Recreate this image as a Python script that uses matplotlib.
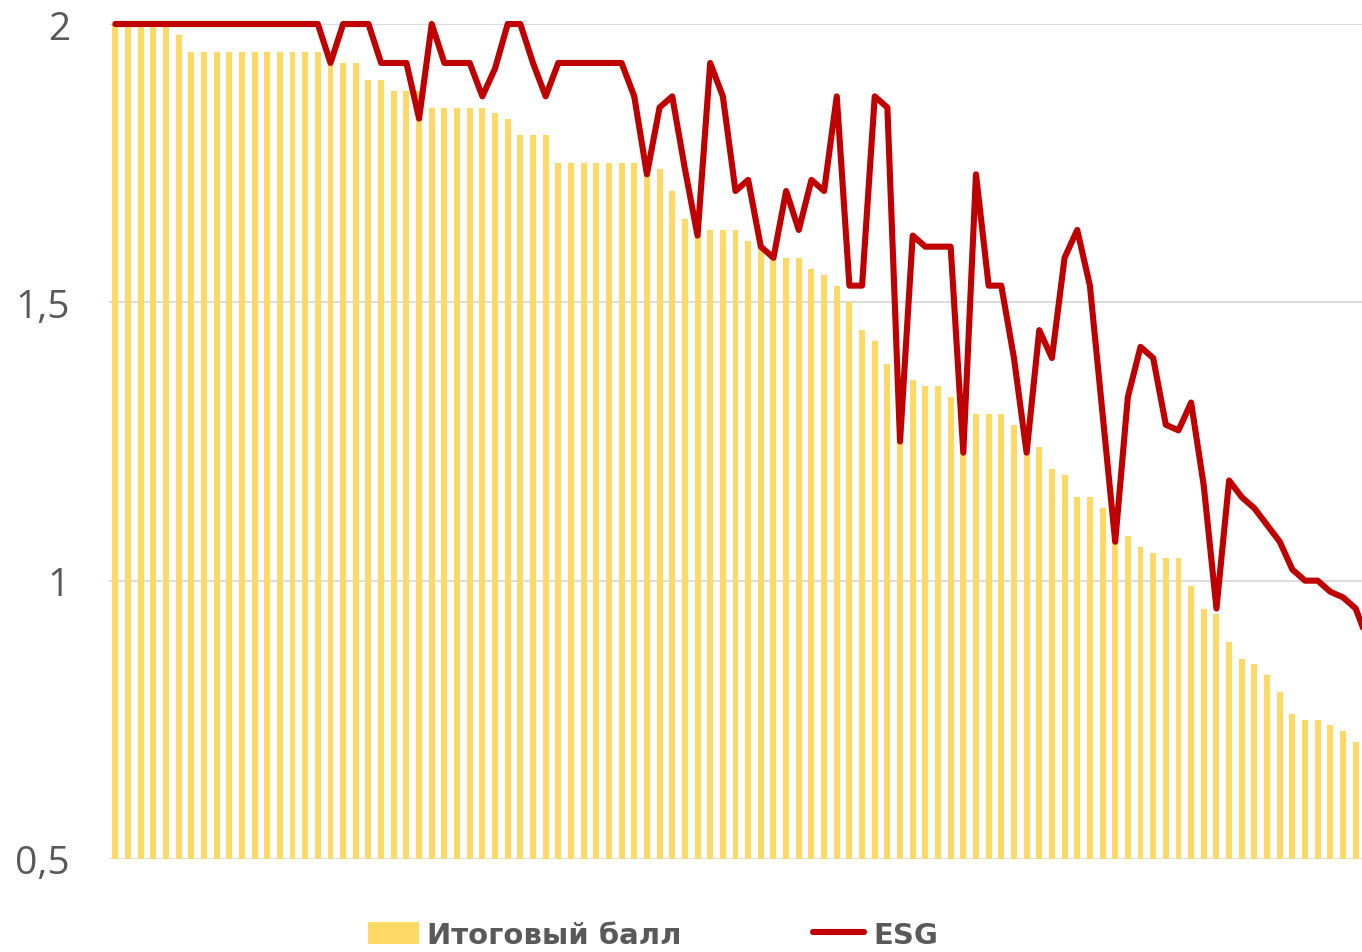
import matplotlib
matplotlib.use("Agg")
import matplotlib.pyplot as plt
from matplotlib.patches import Rectangle
import numpy as np

# итоговый балл (bars), sorted descending
total_score = [2.00, 2.00, 2.00, 2.00, 2.00, 1.98, 1.95, 1.95, 1.95, 1.95,
               1.95, 1.95, 1.95, 1.95, 1.95, 1.95, 1.95, 1.93, 1.93, 1.93,
               1.90, 1.90, 1.88, 1.88, 1.88, 1.85, 1.85, 1.85, 1.85, 1.85,
               1.84, 1.83, 1.80, 1.80, 1.80, 1.75, 1.75, 1.75, 1.75, 1.75,
               1.75, 1.75, 1.75, 1.74, 1.70, 1.65, 1.63, 1.63, 1.63, 1.63,
               1.61, 1.60, 1.59, 1.58, 1.58, 1.56, 1.55, 1.53, 1.50, 1.45,
               1.43, 1.39, 1.37, 1.36, 1.35, 1.35, 1.33, 1.31, 1.30, 1.30,
               1.30, 1.28, 1.25, 1.24, 1.20, 1.19, 1.15, 1.15, 1.13, 1.09,
               1.08, 1.06, 1.05, 1.04, 1.04, 0.99, 0.95, 0.94, 0.89, 0.86,
               0.85, 0.83, 0.80, 0.76, 0.75, 0.75, 0.74, 0.73, 0.71, 0.70]

# ESG line
esg = [2.00, 2.00, 2.00, 2.00, 2.00, 2.00, 2.00, 2.00, 2.00, 2.00,
       2.00, 2.00, 2.00, 2.00, 2.00, 2.00, 2.00, 1.93, 2.00, 2.00,
       2.00, 1.93, 1.93, 1.93, 1.83, 2.00, 1.93, 1.93, 1.93, 1.87,
       1.92, 2.00, 2.00, 1.93, 1.87, 1.93, 1.93, 1.93, 1.93, 1.93,
       1.93, 1.87, 1.73, 1.85, 1.87, 1.74, 1.62, 1.93, 1.87, 1.70,
       1.72, 1.60, 1.58, 1.70, 1.63, 1.72, 1.70, 1.87, 1.53, 1.53,
       1.87, 1.85, 1.25, 1.62, 1.60, 1.60, 1.60, 1.23, 1.73, 1.53,
       1.53, 1.40, 1.23, 1.45, 1.40, 1.58, 1.63, 1.53, 1.30, 1.07,
       1.33, 1.42, 1.40, 1.28, 1.27, 1.32, 1.17, 0.95, 1.18, 1.15,
       1.13, 1.10, 1.07, 1.02, 1.00, 1.00, 0.98, 0.97, 0.95, 0.89]

yticks = [0.5, 1.0, 1.5, 2.0]
ytick_labels = ["0,5", "1", "1,5", "2"]
legend_labels = ["Итоговый балл", "ESG"]

bar_color = "#FFD966"
line_color = "#C00000"
text_color = "#595959"

fig = plt.figure(figsize=(13.62, 9.53), dpi=100)
ax = fig.add_axes([109 / 1362, 1 - 860 / 953, 1 - 109 / 1362, (860 - 25) / 953])

x = np.arange(len(total_score))
bars = ax.bar(x, total_score, width=0.47, bottom=0, color=bar_color,
              label=legend_labels[0], zorder=2)
line, = ax.plot(x, esg, color=line_color, lw=4.4, solid_joinstyle="round",
                solid_capstyle="round", label=legend_labels[1], zorder=3)
# let the line show fully on the top gridline but stay cut at the right edge
clip = Rectangle((0, -0.05), 1, 1.1, transform=ax.transAxes, visible=False)
ax.add_patch(clip)
line.set_clip_path(clip)

ax.set_xlim(-0.5, 98.5)
ax.set_ylim(0.5, 2.0)
ax.set_yticks(yticks)
ax.set_yticklabels(ytick_labels)
ax.set_xticks([])
ax.tick_params(axis="y", length=0, pad=28, labelsize=28, labelcolor=text_color)
for lab in ax.get_yticklabels():
    lab.set_fontfamily("Open Sans")
ax.grid(axis="y", color="#D9D9D9", lw=1.3, zorder=0)
ax.set_axisbelow(True)
for s in ax.spines.values():
    s.set_visible(False)

leg = fig.legend(handles=[bars, line], labels=legend_labels, loc="center left",
                 bbox_to_anchor=(353 / 1362, 1 - 936 / 953), ncol=2,
                 frameon=False, borderpad=0, handlelength=1.75, handleheight=0.8,
                 handletextpad=0.3, columnspacing=4.5,
                 prop={"family": "DejaVu Sans", "weight": "bold", "size": 21})
for t in leg.get_texts():
    t.set_color(text_color)

fig.savefig("out.png", dpi=100)
